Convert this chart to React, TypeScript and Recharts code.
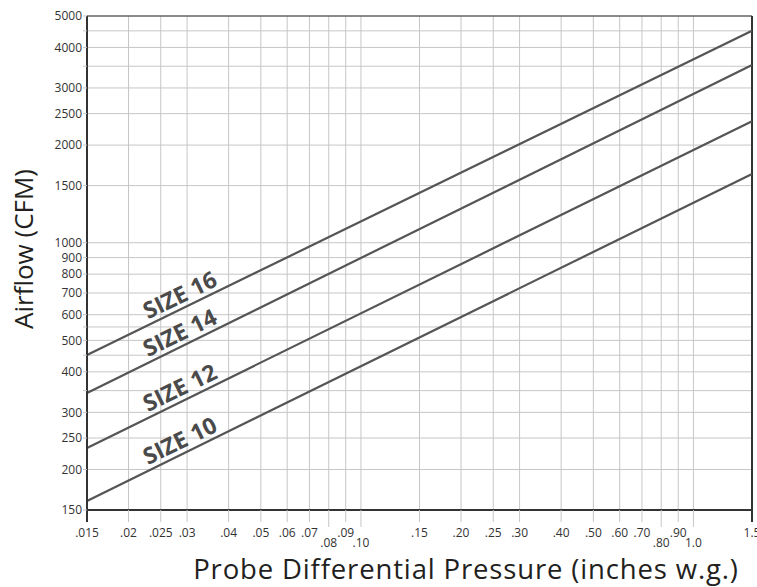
import React from 'react';
import { LineChart, Line, XAxis, YAxis, CartesianGrid, ReferenceLine, ReferenceDot, Customized } from 'recharts';

// Pressure (inches w.g.) at the two ends of each straight (log-log) line
const pressure = [0.015, 1.5];
// Airflow (CFM) for each probe size at those pressures
const size10 = [160, 1630];
const size12 = [233, 2370];
const size14 = [344, 3530];
const size16 = [451, 4500];

const sizeNames = ['SIZE 10', 'SIZE 12', 'SIZE 14', 'SIZE 16'];
const sizeSeries = [size10, size12, size14, size16];
const labelPressure = 0.0297;

const xTickValues = [0.015, 0.02, 0.025, 0.03, 0.04, 0.05, 0.06, 0.07, 0.08, 0.09, 0.1, 0.15, 0.2, 0.25, 0.3, 0.4, 0.5, 0.6, 0.7, 0.8, 0.9, 1.0, 1.5];
const xTickLabels = ['.015', '.02', '.025', '.03', '.04', '.05', '.06', '.07', '.08', '.09', '.10', '.15', '.20', '.25', '.30', '.40', '.50', '.60', '.70', '.80', '.90', '1.0', '1.5'];
const xLowered = [0.08, 0.1, 0.8, 1.0];

const yTickValues = [150, 200, 250, 300, 350, 400, 450, 500, 550, 600, 700, 800, 900, 1000, 1500, 2000, 2500, 3000, 3500, 4000, 4500, 5000];
const yLabeled = [150, 200, 250, 300, 400, 500, 600, 700, 800, 900, 1000, 1500, 2000, 2500, 3000, 4000, 5000];

const data = pressure.map((p, i) => ({
  p,
  s10: size10[i],
  s12: size12[i],
  s14: size14[i],
  s16: size16[i],
}));

const interp = (series: number[], p: number) => {
  const t = Math.log(p / pressure[0]) / Math.log(pressure[1] / pressure[0]);
  return series[0] * Math.pow(series[1] / series[0], t);
};

const FONT = '"Open Sans", "Noto Sans", sans-serif';
const GRID = '#c6c6c6';
const DARK = '#333333';
const LINE = '#555555';

const XTick = (props: any) => {
  const { x, y, payload } = props;
  const v = payload.value;
  const i = xTickValues.indexOf(v);
  const low = xLowered.includes(v);
  const edge = i === 0 || i === xTickValues.length - 1;
  return (
    <g>
      <line x1={x} x2={x} y1={y} y2={y + (edge ? 12 : low ? 17 : 12)} stroke={edge ? DARK : GRID} strokeWidth={edge ? 2 : 1} />
      <text x={x} y={y + (low ? 37 : 26.5)} textAnchor="middle" fontSize={12} fill="#333" fontFamily={FONT}>
        {xTickLabels[i]}
      </text>
    </g>
  );
};

const YTick = (props: any) => {
  const { x, y, payload } = props;
  const v = payload.value;
  const show = yLabeled.includes(v);
  return (
    <g>
      <line x1={x - 4} x2={x} y1={y} y2={y} stroke={GRID} strokeWidth={1} />
      {show && (
        <text x={x - 5} y={y + 4.3} textAnchor="end" fontSize={12} fill="#333" fontFamily={FONT}>
          {v}
        </text>
      )}
    </g>
  );
};

const Titles = () => (
  <g fontFamily={FONT} fill="#231f20">
    <text x={466} y={579} textAnchor="middle" fontSize={27.5} letterSpacing={0.85}>
      Probe Differential Pressure (inches w.g.)
    </text>
    <g transform="translate(33 249) rotate(-90)">
      <text x={0} y={0} textAnchor="middle" fontSize={26}>
        Airflow (CFM)
      </text>
    </g>
  </g>
);

export default function App() {
  return (
    <div style={{ position: 'absolute', left: 0, top: 0, background: '#fff' }}>
      <LineChart width={757} height={587} data={data} margin={{ top: 16, right: 5, bottom: 0, left: 0 }}>
        <CartesianGrid stroke={GRID} strokeWidth={1} />
        <XAxis
          dataKey="p"
          type="number"
          scale="log"
          domain={[0.015, 1.5]}
          allowDataOverflow
          ticks={xTickValues}
          interval={0}
          tickSize={0}
          tickMargin={0}
          tick={<XTick />}
          height={77}
          axisLine={{ stroke: DARK, strokeWidth: 2 }}
          tickLine={false}
        />
        <YAxis
          type="number"
          scale="log"
          domain={[150, 5000]}
          allowDataOverflow
          ticks={yTickValues}
          interval={0}
          tickSize={0}
          tickMargin={0}
          tick={<YTick />}
          width={87}
          axisLine={{ stroke: DARK, strokeWidth: 2 }}
          tickLine={false}
        />
        <ReferenceLine y={5000} stroke={DARK} strokeWidth={1} />
        <ReferenceLine x={1.5} stroke={DARK} strokeWidth={2} />
        <Line dataKey="s10" stroke={LINE} strokeWidth={2.2} dot={false} isAnimationActive={false} />
        <Line dataKey="s12" stroke={LINE} strokeWidth={2.2} dot={false} isAnimationActive={false} />
        <Line dataKey="s14" stroke={LINE} strokeWidth={2.2} dot={false} isAnimationActive={false} />
        <Line dataKey="s16" stroke={LINE} strokeWidth={2.2} dot={false} isAnimationActive={false} />
        {sizeSeries.map((s, i) => (
          <ReferenceDot
            key={sizeNames[i]}
            x={labelPressure}
            y={interp(s, labelPressure)}
            r={0}
            shape={(props: any) => (
              <text
                x={props.cx}
                y={props.cy - 5}
                textAnchor="middle"
                fontSize={23}
                fontWeight={700}
                fill="#4a4a4a"
                fontFamily={FONT}
                transform={`rotate(-26 ${props.cx} ${props.cy})`}
              >
                {sizeNames[i]}
              </text>
            )}
          />
        ))}
        <Customized component={Titles} />
      </LineChart>
    </div>
  );
}
